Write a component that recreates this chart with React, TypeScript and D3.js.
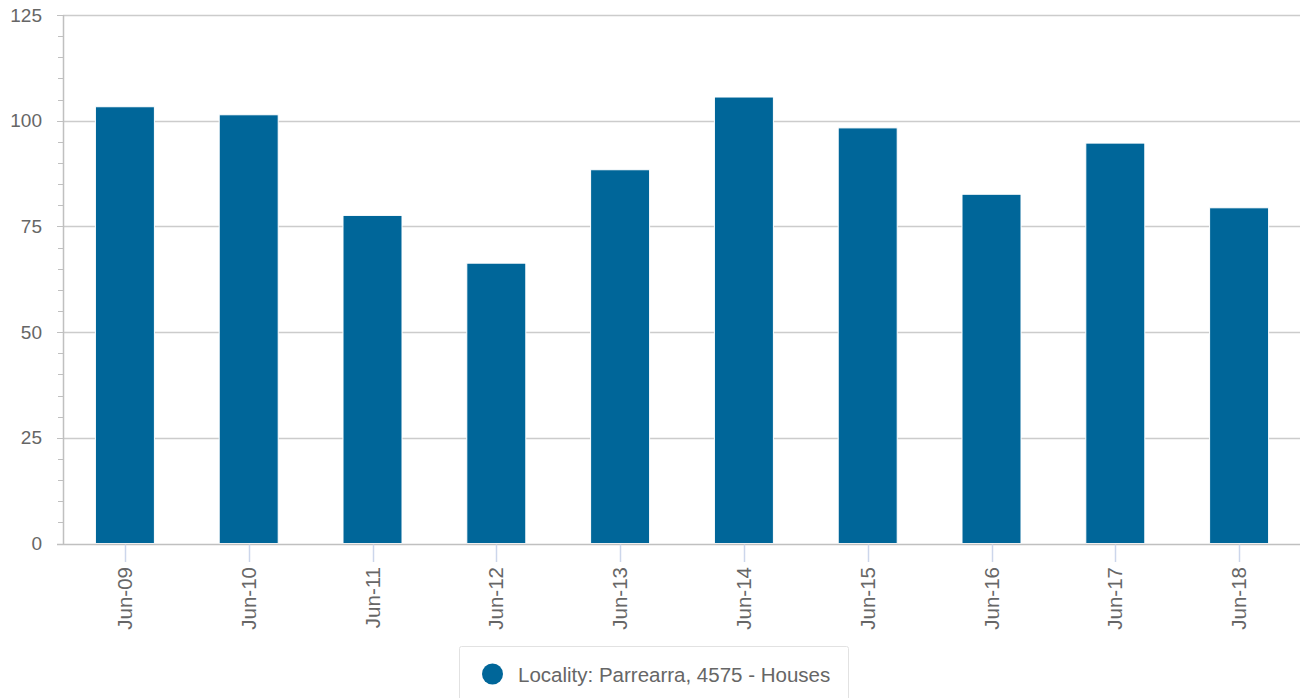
import React, { useEffect, useRef } from 'react';
import * as d3 from 'd3';

const categories = ['Jun-09', 'Jun-10', 'Jun-11', 'Jun-12', 'Jun-13', 'Jun-14', 'Jun-15', 'Jun-16', 'Jun-17', 'Jun-18'];
const values = [103.3, 101.4, 77.6, 66.3, 88.4, 105.6, 98.3, 82.6, 94.7, 79.4];
const yTicks = [0, 25, 50, 75, 100, 125];
const seriesName = 'Locality: Parrearra, 4575 - Houses';

const App = () => {
  const svgRef = useRef<SVGSVGElement>(null);
  const width = 1300;
  const height = 698;

  useEffect(() => {
    const svg = d3.select(svgRef.current);
    svg.selectAll('*').remove();

    const left = 63;
    const right = 1301;
    const top = 15;
    const bottom = 543.5;
    const font = '"Liberation Sans", Arial, Helvetica, sans-serif';
    const color = '#006699';

    const x = d3.scaleBand().domain(categories).range([left, right]).padding(0);
    const y = d3.scaleLinear().domain([0, 125]).range([bottom, top]);
    const barWidth = 59;

    // gridlines
    svg.append('g')
      .selectAll('line')
      .data(yTicks.filter(t => t > 0))
      .enter()
      .append('line')
      .attr('x1', left)
      .attr('x2', right)
      .attr('y1', d => Math.round(y(d)) + 0.5)
      .attr('y2', d => Math.round(y(d)) + 0.5)
      .attr('stroke', '#cccccc')
      .attr('stroke-width', 1.5);

    // minor + major y ticks
    const minor = d3.range(0, 126, 5);
    svg.append('g')
      .selectAll('line')
      .data(minor)
      .enter()
      .append('line')
      .attr('x1', d => (d % 25 === 0 ? 57 : 58))
      .attr('x2', left)
      .attr('y1', d => Math.round(y(d)) + 0.5)
      .attr('y2', d => Math.round(y(d)) + 0.5)
      .attr('stroke', '#c0c0c0')
      .attr('stroke-width', 1);

    // bars
    svg.append('g')
      .selectAll('rect')
      .data(values)
      .enter()
      .append('rect')
      .attr('x', (d, i) => x(categories[i])! + x.bandwidth() / 2 - barWidth / 2)
      .attr('y', d => y(d))
      .attr('width', barWidth)
      .attr('height', d => bottom - y(d))
      .attr('fill', color)
      .attr('stroke', '#ffffff')
      .attr('stroke-width', 1);

    // axis lines
    svg.append('line')
      .attr('x1', left + 0.5).attr('x2', left + 0.5)
      .attr('y1', top).attr('y2', bottom + 1)
      .attr('stroke', '#c0c0c0').attr('stroke-width', 1.5);
    svg.append('line')
      .attr('x1', 57).attr('x2', right)
      .attr('y1', Math.round(bottom) + 0.5).attr('y2', Math.round(bottom) + 0.5)
      .attr('stroke', '#c0c0c0').attr('stroke-width', 1.5);

    // y labels
    svg.append('g')
      .selectAll('text')
      .data(yTicks)
      .enter()
      .append('text')
      .attr('x', 42)
      .attr('y', d => y(d))
      .attr('dy', '0.35em')
      .attr('text-anchor', 'end')
      .style('font-family', font)
      .style('font-size', '19px')
      .style('fill', '#666666')
      .text(d => d);

    // x ticks and labels
    const xg = svg.append('g');
    xg.selectAll('line')
      .data(categories)
      .enter()
      .append('line')
      .attr('x1', d => Math.round(x(d)! + x.bandwidth() / 2) + 0.5)
      .attr('x2', d => Math.round(x(d)! + x.bandwidth() / 2) + 0.5)
      .attr('y1', bottom + 1)
      .attr('y2', 562)
      .attr('stroke', '#ccd6eb')
      .attr('stroke-width', 1.5);

    xg.selectAll('text')
      .data(categories)
      .enter()
      .append('text')
      .attr('transform', d => `translate(${x(d)! + x.bandwidth() / 2 + 7},567) rotate(-90)`)
      .attr('text-anchor', 'end')
      .style('font-family', font)
      .style('font-size', '20.5px')
      .style('fill', '#666666')
      .text(d => d);

    // legend
    const legend = svg.append('g');
    legend.append('rect')
      .attr('x', 459.5)
      .attr('y', 646.5)
      .attr('width', 389)
      .attr('height', 60)
      .attr('rx', 2)
      .attr('fill', '#ffffff')
      .attr('stroke', '#e2e2e2')
      .attr('stroke-width', 1);
    legend.append('circle')
      .attr('cx', 492.5)
      .attr('cy', 674)
      .attr('r', 10.5)
      .attr('fill', color);
    legend.append('text')
      .attr('x', 518)
      .attr('y', 682)
      .style('font-family', font)
      .style('font-size', '20.5px')
      .style('fill', '#666666')
      .text(seriesName);
  }, []);

  return (
    <svg
      ref={svgRef}
      width={width}
      height={height}
      style={{ position: 'absolute', left: 0, top: 0, background: '#ffffff' }}
    />
  );
};

export default App;
